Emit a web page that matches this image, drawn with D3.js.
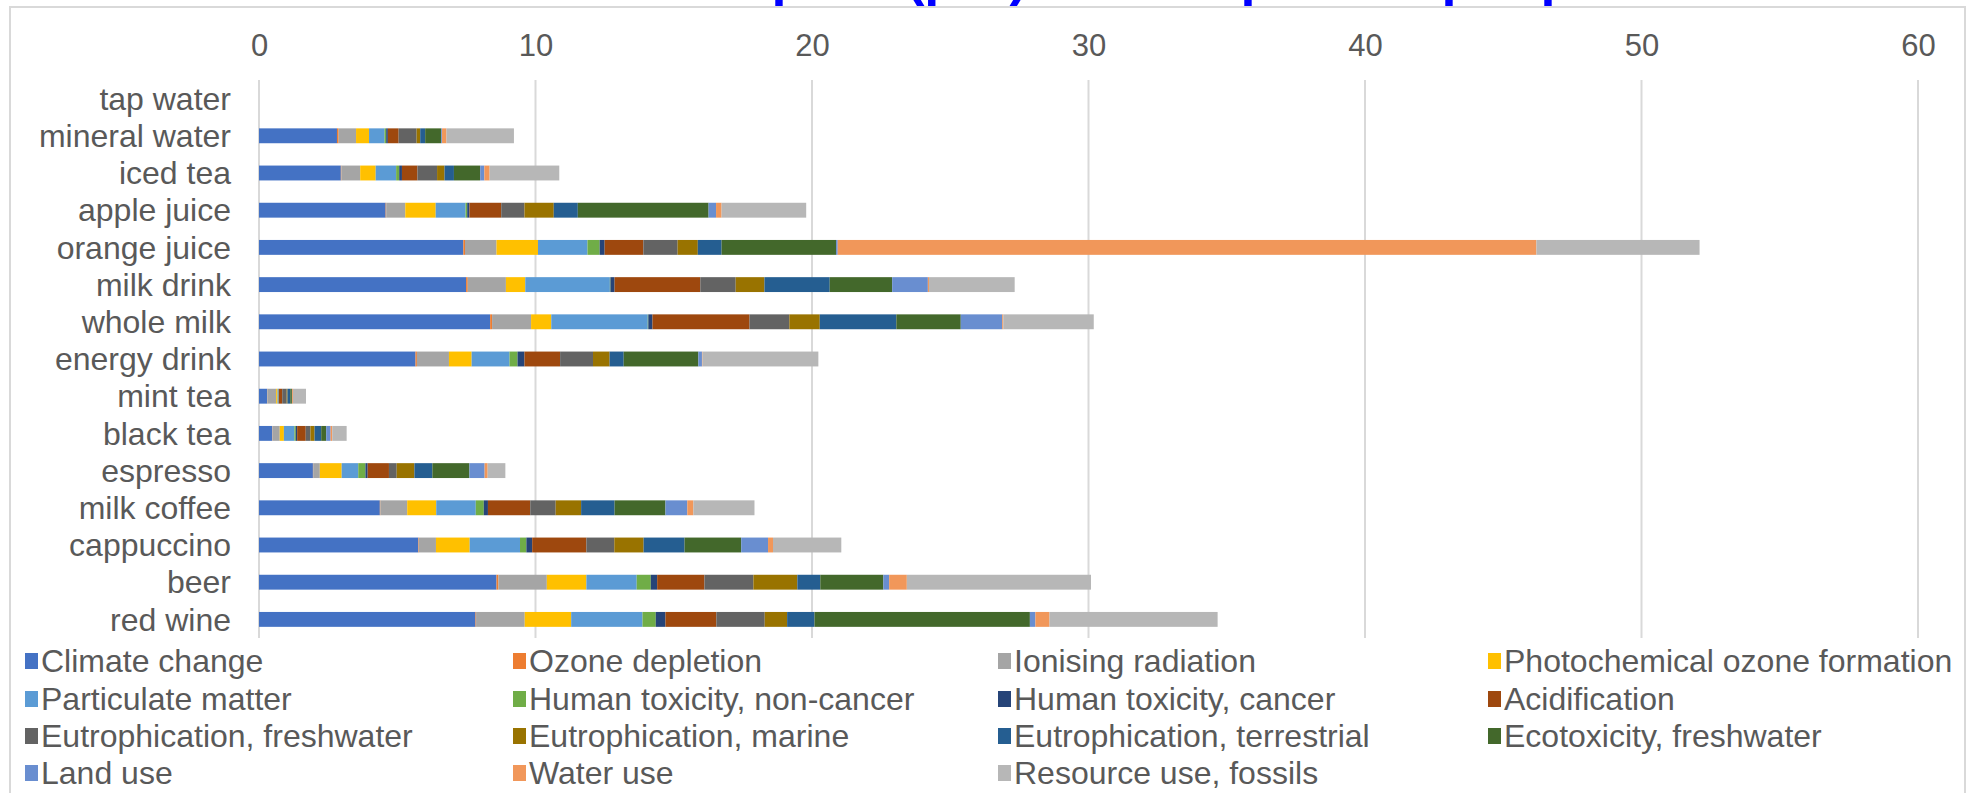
<!DOCTYPE html>
<html>
<head>
<meta charset="utf-8">
<script src="https://cdn.jsdelivr.net/npm/d3@7"></script>
<style>
    body { margin: 0; background: #fff; }
    svg { display: block; font-family: "Liberation Sans", Arial, sans-serif; }
</style>
</head>
<body>
<div id="chart"></div>
<script>
// beverages, top to bottom
const beverages = ['tap water', 'mineral water', 'iced tea', 'apple juice', 'orange juice', 'milk drink',
    'whole milk', 'energy drink', 'mint tea', 'black tea', 'espresso', 'milk coffee', 'cappuccino', 'beer', 'red wine'];

const impactNames = ['Climate change', 'Ozone depletion', 'Ionising radiation', 'Photochemical ozone formation',
    'Particulate matter', 'Human toxicity, non-cancer', 'Human toxicity, cancer', 'Acidification',
    'Eutrophication, freshwater', 'Eutrophication, marine', 'Eutrophication, terrestrial', 'Ecotoxicity, freshwater',
    'Land use', 'Water use', 'Resource use, fossils'];

const impactColors = ['#4472C4', '#ED7D31', '#A5A5A5', '#FFC000', '#5B9BD5', '#70AD47', '#264478', '#9E480E',
    '#636363', '#997300', '#255E91', '#43682B', '#698ED0', '#F1975A', '#B7B7B7'];

// one array per impact category, values in beverage order
const climateChange  = [0, 2.82, 2.96, 4.58, 7.39, 7.49, 8.36, 5.66, 0.29, 0.48, 1.95, 4.37, 5.76, 8.59, 7.83];
const ozoneDepletion = [0, 0.06, 0.02, 0.02, 0.06, 0.06, 0.07, 0.05, 0.01, 0.01, 0.01, 0.02, 0.02, 0.07, 0.02];
const ionising       = [0, 0.63, 0.68, 0.69, 1.14, 1.38, 1.41, 1.16, 0.32, 0.26, 0.24, 0.97, 0.62, 1.75, 1.76];
const photochemical  = [0, 0.47, 0.56, 1.10, 1.50, 0.70, 0.73, 0.82, 0.05, 0.15, 0.79, 1.05, 1.22, 1.43, 1.68];
const particulate    = [0, 0.56, 0.74, 1.08, 1.79, 3.06, 3.49, 1.37, 0.03, 0.38, 0.60, 1.43, 1.82, 1.82, 2.58];
const toxNonCancer   = [0, 0.06, 0.11, 0.06, 0.44, 0.02, 0.02, 0.29, 0.01, 0.05, 0.26, 0.29, 0.23, 0.51, 0.48];
const toxCancer      = [0, 0.06, 0.10, 0.08, 0.18, 0.15, 0.15, 0.25, 0.01, 0.05, 0.08, 0.15, 0.21, 0.23, 0.35];
const acidification  = [0, 0.39, 0.56, 1.15, 1.40, 3.10, 3.51, 1.29, 0.12, 0.31, 0.77, 1.53, 1.96, 1.71, 1.84];
const eutroFresh     = [0, 0.65, 0.71, 0.84, 1.24, 1.28, 1.44, 1.19, 0.16, 0.17, 0.28, 0.92, 1.01, 1.77, 1.75];
const eutroMarine    = [0, 0.13, 0.27, 1.06, 0.73, 1.04, 1.10, 0.60, 0.03, 0.15, 0.64, 0.92, 1.06, 1.59, 0.81];
const eutroTerr      = [0, 0.18, 0.34, 0.87, 0.86, 2.36, 2.77, 0.51, 0.10, 0.24, 0.65, 1.21, 1.48, 0.83, 0.99];
const ecotoxFresh    = [0, 0.58, 0.95, 4.73, 4.14, 2.26, 2.33, 2.70, 0.06, 0.18, 1.34, 1.84, 2.05, 2.28, 7.79];
const landUse        = [0, 0.03, 0.15, 0.27, 0.06, 1.29, 1.50, 0.13, 0.01, 0.16, 0.55, 0.79, 0.97, 0.21, 0.20];
const waterUse       = [0, 0.16, 0.19, 0.20, 25.27, 0.04, 0.04, 0.02, 0.03, 0.06, 0.11, 0.22, 0.18, 0.64, 0.51];
const fossils        = [0, 2.44, 2.52, 3.06, 5.90, 3.10, 3.27, 4.19, 0.47, 0.52, 0.64, 2.21, 2.47, 6.66, 6.08];

const seriesValues = [climateChange, ozoneDepletion, ionising, photochemical, particulate, toxNonCancer, toxCancer,
    acidification, eutroFresh, eutroMarine, eutroTerr, ecotoxFresh, landUse, waterUse, fossils];

const xTicks = [0, 10, 20, 30, 40, 50, 60];

const width = 1973, height = 793;
const textColor = '#595959';
const gridColor = '#D9D9D9';

const rows = beverages.map((name, i) => {
    const row = { name };
    impactNames.forEach((k, j) => { row[k] = seriesValues[j][i]; });
    return row;
});

const svg = d3.select('#chart').append('svg')
    .attr('width', width)
    .attr('height', height);

svg.append('rect')
    .attr('width', width).attr('height', height)
    .attr('fill', '#fff');

// title sits above the picture, only its descenders show (as in the reference crop)
svg.append('text')
    .attr('x', 1000)
    .attr('y', -5)
    .attr('text-anchor', 'middle')
    .attr('font-size', 54)
    .attr('font-weight', 'bold')
    .attr('fill', '#0000FF')
    .text('Environmental footprint (µPt) for one portion per person');

// chart frame
svg.append('rect')
    .attr('x', 10).attr('y', 7)
    .attr('width', 1955).attr('height', 820)
    .attr('fill', 'none')
    .attr('stroke', gridColor)
    .attr('stroke-width', 2);

const x = d3.scaleLinear().domain([0, 60]).range([259, 1918]);
const y = d3.scaleBand().domain(beverages).range([80, 638]).paddingInner(0.6).paddingOuter(0.3);

// gridlines
svg.append('g')
    .selectAll('line')
    .data(xTicks)
    .join('line')
    .attr('x1', d => x(d)).attr('x2', d => x(d))
    .attr('y1', 80).attr('y2', 638)
    .attr('stroke', gridColor)
    .attr('stroke-width', 2);

// top value axis
const xAxis = svg.append('g')
    .attr('transform', 'translate(0,56)')
    .call(d3.axisTop(x).tickValues(xTicks).tickSize(0).tickPadding(0));
xAxis.select('.domain').remove();
xAxis.selectAll('text')
    .attr('font-size', 31)
    .attr('font-family', '"Liberation Sans", Arial, sans-serif')
    .attr('fill', textColor);

// category axis
const yAxis = svg.append('g')
    .attr('transform', 'translate(231,0)')
    .call(d3.axisLeft(y).tickSize(0).tickPadding(0));
yAxis.select('.domain').remove();
yAxis.selectAll('text')
    .attr('font-size', 32)
    .attr('font-family', '"Liberation Sans", Arial, sans-serif')
    .attr('fill', textColor)
    .attr('dy', '0.35em');

// stacked bars
const stack = d3.stack().keys(impactNames)(rows);

svg.append('g')
    .selectAll('g')
    .data(stack)
    .join('g')
    .attr('fill', (d, i) => impactColors[i])
    .selectAll('rect')
    .data(d => d)
    .join('rect')
    .attr('x', d => x(d[0]))
    .attr('y', d => y(d.data.name))
    .attr('width', d => Math.max(0, x(d[1]) - x(d[0])))
    .attr('height', y.bandwidth());

// legend, 4 columns
const legendCols = [25, 513, 998, 1488];
const legendRows = [661, 699, 736, 773];

const legend = svg.append('g')
    .selectAll('g')
    .data(impactNames)
    .join('g')
    .attr('transform', (d, i) => `translate(${legendCols[i % 4]},${legendRows[Math.floor(i / 4)]})`);

legend.append('rect')
    .attr('x', 0).attr('y', -8)
    .attr('width', 13).attr('height', 16)
    .attr('fill', (d, i) => impactColors[i]);

legend.append('text')
    .attr('x', 16)
    .attr('dy', '0.35em')
    .attr('font-size', 32)
    .attr('fill', textColor)
    .text(d => d);
</script>
</body>
</html>
